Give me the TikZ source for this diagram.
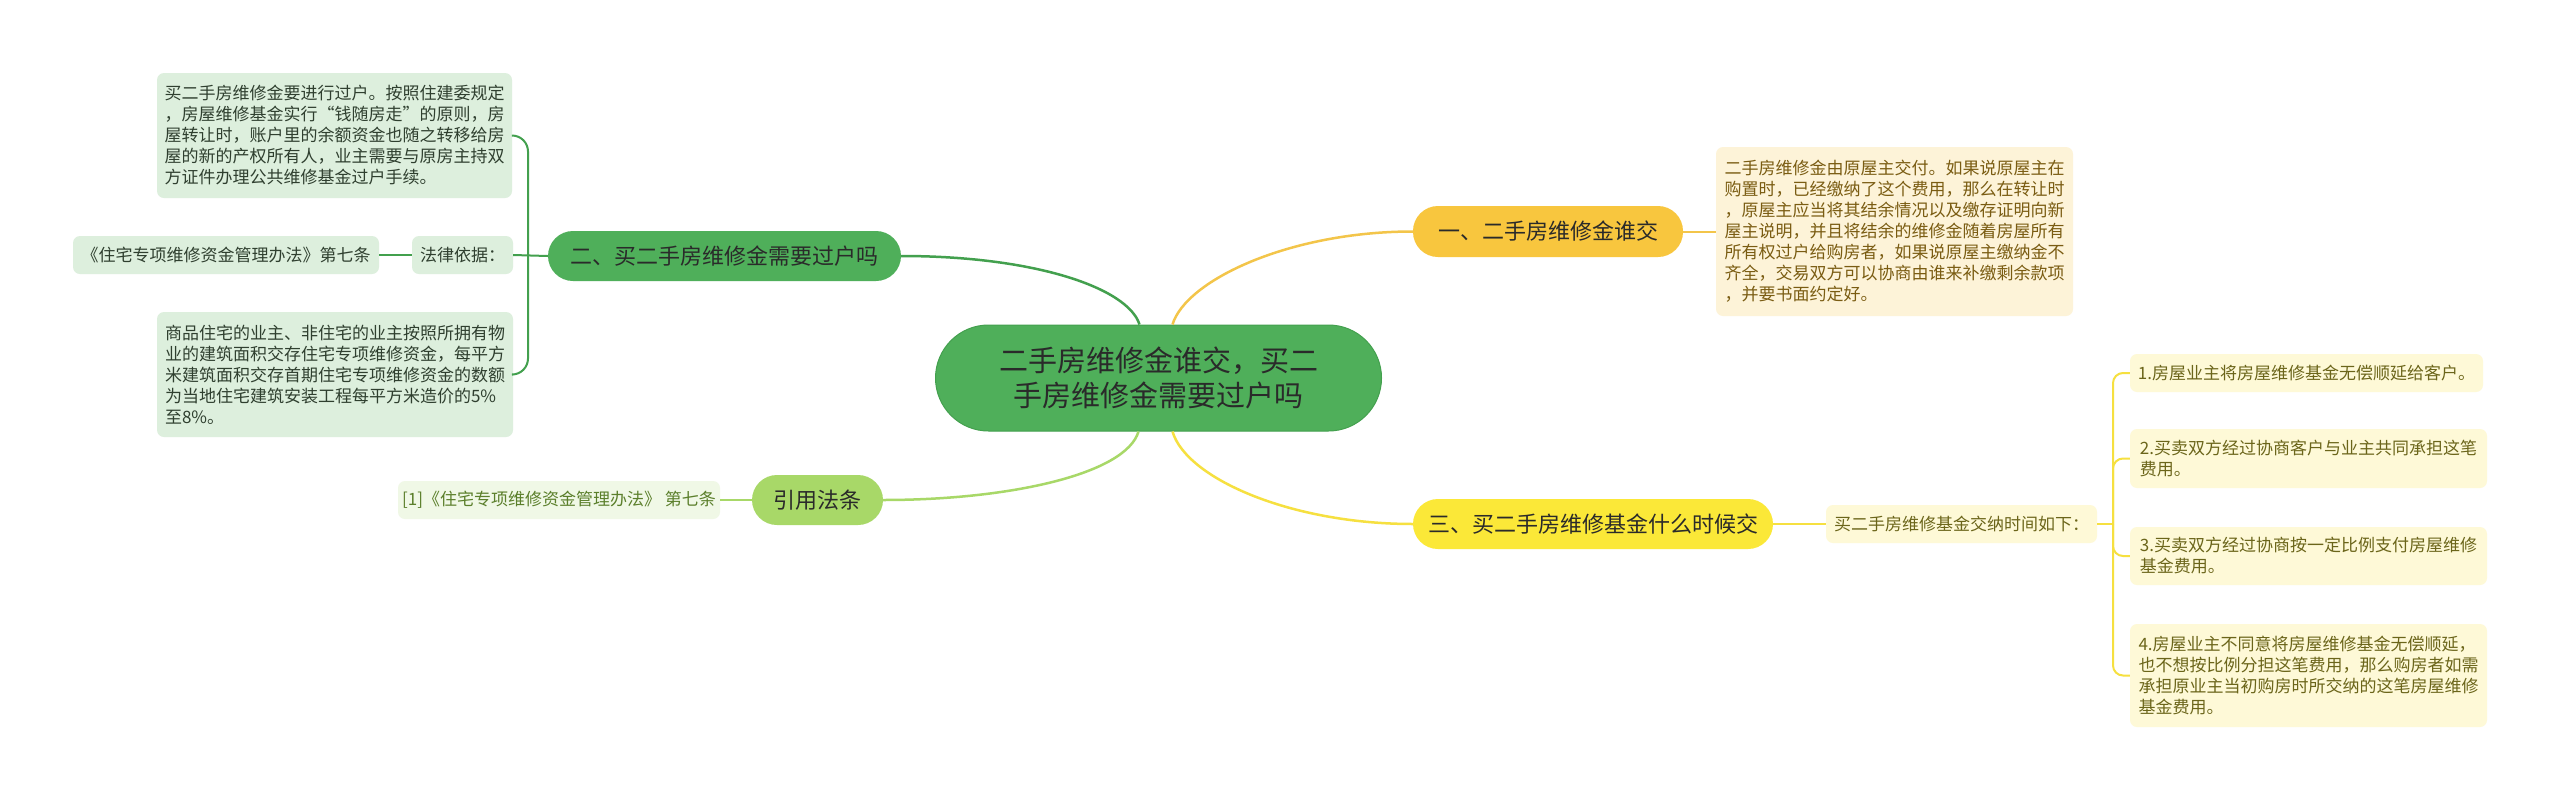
\documentclass[tikz,border=0pt]{standalone}
\usepackage{fontspec}
\setmainfont{Noto Sans CJK SC}
\definecolor{cgreen}{HTML}{4FAF5A}
\definecolor{cgreenD}{HTML}{43A04E}
\definecolor{lgreen}{HTML}{A8D868}
\definecolor{gold}{HTML}{F8C63E}
\definecolor{goldL}{HTML}{F3C54A}
\definecolor{yel}{HTML}{FBE838}
\definecolor{yelL}{HTML}{F6E040}
\definecolor{gfill}{HTML}{DDEFDD}
\definecolor{yfill}{HTML}{FDF3D8}
\definecolor{y3fill}{HTML}{FEF9D7}
\definecolor{rfill}{HTML}{F0F8E6}
\definecolor{tdark}{HTML}{2A2A2A}
\definecolor{tgreen}{HTML}{2F3F2F}
\definecolor{tbrown}{HTML}{7A5C12}
\definecolor{tolive}{HTML}{6B651A}
\definecolor{trefg}{HTML}{5B7F2B}
\begin{document}
\begin{tikzpicture}[x=1pt,y=-1pt,
  pill/.style={shape=rectangle, rounded corners=25pt, minimum height=50pt, inner sep=0pt, text=tdark, font=\fontsize{22}{26}\selectfont},
  detail/.style={shape=rectangle, rounded corners=7pt, inner sep=0pt, align=left, font=\fontsize{17}{21}\selectfont},
  mainline/.style={line width=2.5pt},
  subline/.style={line width=2pt}]
\useasboundingbox (0,0) rectangle (2560,801);
\fill[white] (0,0) rectangle (2560,801);

% central node
\node[shape=rectangle, rounded corners=53pt, fill=cgreen, draw=cgreenD, line width=1pt, minimum width=446pt, minimum height=106pt, inner sep=0pt, align=center, text=tdark, font=\fontsize{29}{35}\selectfont] (c) at (1158.5,378) {二手房维修金谁交，买二\\手房维修金需要过户吗};

% main branches
\node[pill, fill=cgreen, minimum width=353pt] (n2) at (724.5,256) {二、买二手房维修金需要过户吗};
\node[pill, fill=gold, minimum width=270pt, minimum height=51pt] (n1) at (1548,231.5) {一、二手房维修金谁交};
\node[pill, fill=yel, minimum width=360pt] (n3) at (1593,524) {三、买二手房维修基金什么时候交};
\node[pill, fill=lgreen, minimum width=131pt] (ref) at (817.5,500) {引用法条};

% details of branch 二
\node[detail, fill=gfill, text=tgreen, minimum width=355pt, minimum height=125pt] (g1) at (334.5,135.5) {买二手房维修金要进行过户。按照住建委规定\\，房屋维修基金实行“钱随房走”的原则，房\\屋转让时，账户里的余额资金也随之转移给房\\屋的新的产权所有人，业主需要与原房主持双\\方证件办理公共维修基金过户手续。};
\node[detail, fill=gfill, text=tgreen, minimum width=101pt, minimum height=38pt] (g2) at (462.5,255) {法律依据：};
\node[detail, fill=gfill, text=tgreen, minimum width=306pt, minimum height=38pt] (g2a) at (226,255) {《住宅专项维修资金管理办法》第七条};
\node[detail, fill=gfill, text=tgreen, minimum width=356pt, minimum height=125pt] (g3) at (335,374.5) {商品住宅的业主、非住宅的业主按照所拥有物\\业的建筑面积交存住宅专项维修资金，每平方\\米建筑面积交存首期住宅专项维修资金的数额\\为当地住宅建筑安装工程每平方米造价的5\%\\至8\%。};

% reference detail
\node[detail, fill=rfill, text=trefg, minimum width=322pt, minimum height=38pt] (r1) at (559,500) {[1]《住宅专项维修资金管理办法》 第七条};

% detail of branch 一
\node[detail, fill=yfill, text=tbrown, minimum width=357pt, minimum height=169pt] (y1) at (1894.5,231.5) {二手房维修金由原屋主交付。如果说原屋主在\\购置时，已经缴纳了这个费用，那么在转让时\\，原屋主应当将其结余情况以及缴存证明向新\\屋主说明，并且将结余的维修金随着房屋所有\\所有权过户给购房者，如果说原屋主缴纳金不\\齐全，交易双方可以协商由谁来补缴剩余款项\\，并要书面约定好。};

% details of branch 三
\node[detail, fill=y3fill, text=tolive, minimum width=271pt, minimum height=38pt] (t3) at (1961.5,524) {买二手房维修基金交纳时间如下：};
\node[detail, fill=y3fill, text=tolive, minimum width=353pt, minimum height=38pt] (i1) at (2306.5,373) {1.房屋业主将房屋维修基金无偿顺延给客户。};
\node[detail, fill=y3fill, text=tolive, minimum width=357pt, minimum height=59pt] (i2) at (2308.5,458.5) {2.买卖双方经过协商客户与业主共同承担这笔\\费用。};
\node[detail, fill=y3fill, text=tolive, minimum width=357pt, minimum height=58pt] (i3) at (2308.5,556) {3.买卖双方经过协商按一定比例支付房屋维修\\基金费用。};
\node[detail, fill=y3fill, text=tolive, minimum width=357pt, minimum height=103pt] (i4) at (2308.5,675.5) {4.房屋业主不同意将房屋维修基金无偿顺延，\\也不想按比例分担这笔费用，那么购房者如需\\承担原业主当初购房时所交纳的这笔房屋维修\\基金费用。};

% junctions
\coordinate (j2) at (528,256);
\coordinate (j3) at (2113,524);

% main connectors
\draw[mainline, cgreenD] ([xshift=-19pt]c.north) .. controls (1128,288) and (1035,256) .. (n2.east);
\draw[mainline, goldL] ([xshift=14pt]c.north) .. controls (1186,280) and (1290,231.5) .. (n1.west);
\draw[mainline, yelL] ([xshift=14pt]c.south) .. controls (1186,478) and (1290,524) .. (n3.west);
\draw[mainline, lgreen] ([xshift=-20pt]c.south) .. controls (1126,474) and (1010,500) .. (ref.east);

% branch 二 connectors
\draw[subline, cgreenD] (n2.west) -- (g2.east);
\draw[subline, cgreenD] (g2.west) -- (g2a.east);
\draw[subline, cgreenD, rounded corners=16pt] (j2) |- (g1.east);
\draw[subline, cgreenD, rounded corners=16pt] (j2) |- (g3.east);

% reference connector
\draw[subline, lgreen] (ref.west) -- (r1.east);

% branch 一 connector
\draw[subline, goldL] (n1.east) -- (y1.west);

% branch 三 connectors
\draw[subline, yelL] (n3.east) -- (t3.west);
\draw[subline, yelL] (t3.east) -- (j3);
\draw[subline, yelL, rounded corners=10pt] (j3) |- (i1.west);
\draw[subline, yelL, rounded corners=10pt] (j3) |- (i2.west);
\draw[subline, yelL, rounded corners=10pt] (j3) |- (i3.west);
\draw[subline, yelL, rounded corners=10pt] (j3) |- (i4.west);
\end{tikzpicture}
\end{document}
